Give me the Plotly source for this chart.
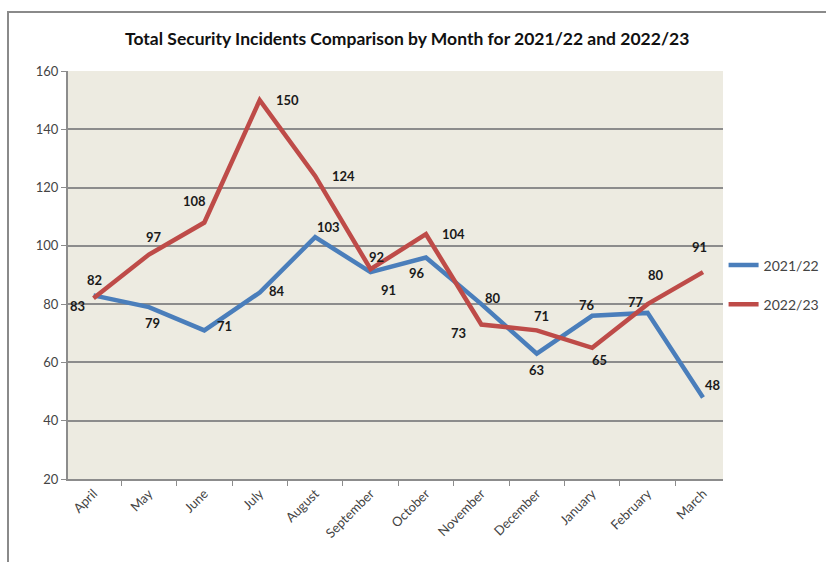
import plotly.graph_objects as go

months = ["April", "May", "June", "July", "August", "September", "October",
          "November", "December", "January", "February", "March"]
incidents_2122 = [83, 79, 71, 84, 103, 91, 96, 80, 63, 76, 77, 48]
incidents_2223 = [82, 97, 108, 150, 124, 92, 104, 73, 71, 65, 80, 91]
series_names = ["2021/22", "2022/23"]

# pixel offsets of each data label from its point (dx, dy; dy positive = up)
offsets_2122 = [(-16, -11), (4, -16), (20, 4), (17, 1), (13, 10), (18, -18),
                 (-9, -15), (12, 6), (0, -16), (-5, 11), (-12, 11), (10, 12)]
offsets_2223 = [(1, 18), (5, 18), (-10, 22), (28, 0), (28, 0), (6, 12),
                (28, 0), (-23, -8), (5, 14), (7, -12), (8, 29), (-4, 25)]

blue = "#4A7EBB"
red = "#BE4B48"
grid = "#8C8C8C"
font_family = "Lato, 'Open Sans', sans-serif"

fig = go.Figure()
fig.add_trace(go.Scatter(x=months, y=incidents_2122, name=series_names[0],
                         legendgroup="a", mode="lines",
                         line=dict(color=blue, width=4.5)))
fig.add_trace(go.Scatter(x=months, y=incidents_2223, name=series_names[1],
                         legendgroup="b", mode="lines",
                         line=dict(color=red, width=4.5)))

annotations = []
for vals, offs in ((incidents_2122, offsets_2122), (incidents_2223, offsets_2223)):
    for m, v, (dx, dy) in zip(months, vals, offs):
        annotations.append(dict(x=m, y=v, text=str(v), showarrow=False,
                                xshift=dx, yshift=dy,
                                font=dict(family=font_family, size=13,
                                          color="#1a1a1a", weight="bold")))

fig.update_layout(
    width=826, height=562,
    margin=dict(l=68, r=103, t=71, b=83, autoexpand=False),
    paper_bgcolor="white",
    plot_bgcolor="#EDEBE1",
    title=dict(text="<b>Total Security Incidents Comparison by Month for 2021/22 and 2022/23</b>",
               x=0.493, xanchor="center", y=0.93, yanchor="middle",
               font=dict(family=font_family, size=17.5, color="#111111")),
    showlegend=True,
    legend=dict(xref="container", yref="container", x=0.876, y=0.493,
                xanchor="left", yanchor="middle", traceorder="grouped",
                bgcolor="rgba(0,0,0,0)", tracegroupgap=18,
                font=dict(family=font_family, size=14, color="#444444")),
    annotations=annotations,
    shapes=[dict(type="rect", xref="paper", yref="paper",
                 x0=-0.0916, x1=1.2, y0=-0.25, y1=1.1446,
                 line=dict(color="#8A8A8A", width=2), layer="below")],
)

fig.update_xaxes(
    type="category", showgrid=False, showline=True, linecolor=grid, linewidth=2,
    ticks="outside", tickson="boundaries", ticklen=5, tickcolor=grid,
    tickangle=-45, tickfont=dict(family=font_family, size=13, color="#444444"),
    mirror=False,
)
fig.update_yaxes(
    range=[20, 160], dtick=20, showgrid=True, gridcolor=grid, gridwidth=2,
    showline=True, linecolor=grid, linewidth=2, zeroline=False,
    ticks="outside", ticklen=5, tickcolor=grid,
    tickfont=dict(family=font_family, size=13, color="#444444"),
)

fig.write_html("out.html")
